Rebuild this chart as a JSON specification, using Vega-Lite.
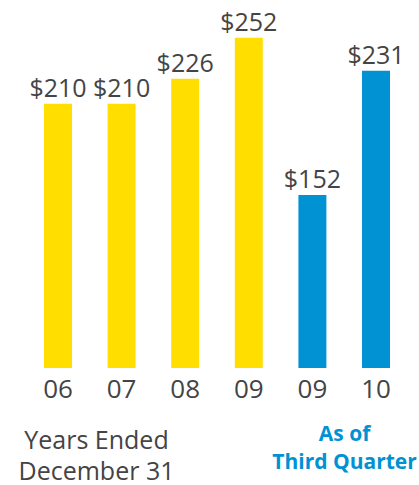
{
  "$schema": "https://vega.github.io/schema/vega-lite/v6.json",
  "width": 346,
  "height": 368,
  "autosize": {"type": "none"},
  "padding": {"left": 44, "top": 0, "right": 29, "bottom": 117},
  "background": "white",
  "config": {"view": {"stroke": null}, "font": "Open Sans"},
  "data": {
    "values": [
      {"key": "06", "period": "Years Ended December 31", "value": 210},
      {"key": "07", "period": "Years Ended December 31", "value": 210},
      {"key": "08", "period": "Years Ended December 31", "value": 226},
      {"key": "09", "period": "Years Ended December 31", "value": 252},
      {"key": "09 Q3", "period": "As of Third Quarter", "value": 152},
      {"key": "10 Q3", "period": "As of Third Quarter", "value": 231}
    ]
  },
  "encoding": {
    "y": {
      "field": "value",
      "type": "quantitative",
      "scale": {"domain": [42, 276], "zero": false, "nice": false, "clamp": true},
      "axis": null
    }
  },
  "layer": [
    {
      "mark": {"type": "bar"},
      "encoding": {
        "x": {
          "field": "key",
          "type": "nominal",
          "sort": null,
          "scale": {"paddingInner": 0.56, "paddingOuter": 0},
          "axis": {
            "orient": "bottom",
            "domain": false,
            "ticks": false,
            "labelPadding": 8,
            "labelFontSize": 26,
            "labelColor": "#444444",
            "labelAngle": 0,
            "labelExpr": "slice(datum.label, 0, 2)",
            "title": ["Years Ended", "December 31"],
            "titleFontSize": 25,
            "titleFontWeight": "normal",
            "titleColor": "#444444",
            "titleX": 52,
            "titleY": 80,
            "titleBaseline": "alphabetic",
            "titleAlign": "center",
            "titleLineHeight": 31
          }
        },
        "color": {
          "field": "period",
          "type": "nominal",
          "scale": {
            "domain": ["Years Ended December 31", "As of Third Quarter"],
            "range": ["#FFDE00", "#0092D2"]
          },
          "legend": null
        }
      }
    },
    {
      "mark": {"type": "text", "baseline": "alphabetic", "dy": -7, "fontSize": 25, "color": "#444444"},
      "encoding": {
        "x": {
          "field": "key",
          "type": "nominal",
          "sort": null,
          "axis": {
            "orient": "top",
            "domain": false,
            "ticks": false,
            "labels": false,
            "title": ["As of", "Third Quarter"],
            "titleFontSize": 21,
            "titleFontWeight": "bold",
            "titleColor": "#0092D2",
            "titleX": 300,
            "titleY": 440,
            "titleBaseline": "alphabetic",
            "titleAlign": "center",
            "titleLineHeight": 28
          }
        },
        "text": {"field": "value", "type": "quantitative", "format": "$d"}
      }
    }
  ],
  "resolve": {"axis": {"x": "independent"}}
}
